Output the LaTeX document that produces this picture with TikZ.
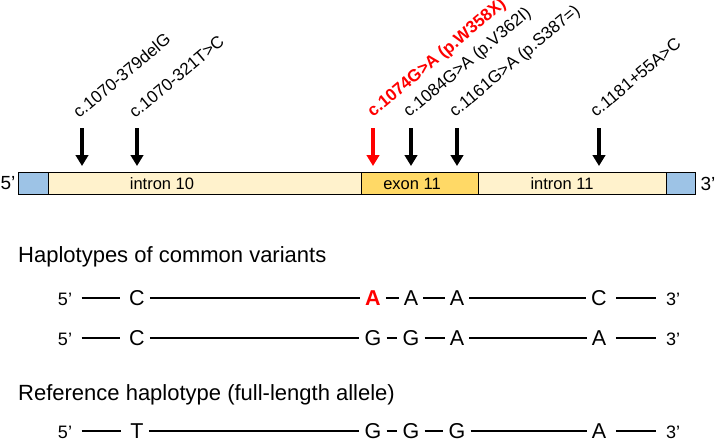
\documentclass[tikz,border=0pt]{standalone}
\usepackage{fontspec}
\setmainfont{Liberation Sans}
\usetikzlibrary{arrows.meta}
\definecolor{capblue}{HTML}{9DC3E6}
\definecolor{introncol}{HTML}{FFF2CC}
\definecolor{exoncol}{HTML}{FFD966}
\definecolor{mutred}{HTML}{FF0000}
\begin{document}
\begin{tikzpicture}[x=1pt,y=-1pt,
  seg/.style={draw=black, line width=1pt, minimum height=21.5pt, inner sep=0pt, anchor=west},
  seglbl/.style={font=\fontsize{16.5}{19}\selectfont, inner sep=0pt},
  endlbl/.style={font=\fontsize{19}{22}\selectfont, inner sep=0pt},
  varlbl/.style={font=\fontsize{17}{20}\selectfont, inner sep=0pt, anchor=base west, rotate=40},
  mutarrow/.style={-{Triangle[length=11pt,width=12.5pt]}, line width=4pt},
  heading/.style={font=\fontsize{22}{26}\selectfont, inner sep=0pt, anchor=base west},
  base/.style={font=\fontsize{21.5}{25}\selectfont, text height=15.5pt, text depth=0pt, inner ysep=0pt, inner xsep=5pt},
  endb/.style={font=\fontsize{18}{21}\selectfont, text height=15.5pt, text depth=0pt, inner ysep=0pt, inner xsep=5pt},
  hapline/.style={line width=2.8pt},
  endline/.style={line width=2.8pt, shorten <=4.5pt, shorten >=4.5pt}
]
\useasboundingbox (0,0) rectangle (717,439);

% gene bar
\node[seg, fill=capblue, minimum width=30pt] (s1) at (18,183.3) {};
\node[seg, fill=introncol, minimum width=313pt] (s2) at (48,183.3) {};
\node[seg, fill=exoncol, minimum width=117pt] (s3) at (361,183.3) {};
\node[seg, fill=introncol, minimum width=188pt] (s4) at (478,183.3) {};
\node[seg, fill=capblue, minimum width=28.5pt] (s5) at (666,183.3) {};
\node[seglbl] (t2) at (162,183.5) {intron 10};
\node[seglbl] (t3) at (412,183.5) {exon 11};
\node[seglbl] (t4) at (562,183.5) {intron 11};
\node[endlbl] (five) at (8,183.5) {5’};
\node[endlbl] (three) at (708,183.5) {3’};

% variant arrows
\coordinate (a1t) at (82,128);  \coordinate (a1b) at (82,166);
\coordinate (a2t) at (137,128); \coordinate (a2b) at (137,166);
\coordinate (a3t) at (373,128); \coordinate (a3b) at (373,166);
\coordinate (a4t) at (411,128); \coordinate (a4b) at (411,166);
\coordinate (a5t) at (457,128); \coordinate (a5b) at (457,166);
\coordinate (a6t) at (599,128); \coordinate (a6b) at (599,166);
\draw[mutarrow] (a1t) -- (a1b);
\draw[mutarrow] (a2t) -- (a2b);
\draw[mutarrow, mutred] (a3t) -- (a3b);
\draw[mutarrow] (a4t) -- (a4b);
\draw[mutarrow] (a5t) -- (a5b);
\draw[mutarrow] (a6t) -- (a6b);

\node[varlbl] (v1) at (79,119) {c.1070-379delG};
\node[varlbl] (v2) at (135,119) {c.1070-321T>C};
\node[varlbl, text=mutred, font=\fontsize{17}{20}\selectfont\bfseries] (v3) at (373,118) {c.1074G>A (p.W358X)};
\node[varlbl] (v4) at (409,118) {c.1084G>A (p.V362I)};
\node[varlbl] (v5) at (455,118) {c.1161G>A (p.S387=)};
\node[varlbl] (v6) at (596,118) {c.1181+55A>C};

% headings
\node[heading] (h1) at (18,262) {Haplotypes of common variants};
\node[heading] (h2) at (18,400.5) {Reference haplotype (full-length allele)};

% row 1
\node[endb] (r1a) at (65,298) {5’};
\node[base] (r1b) at (137,298) {C};
\node[base, text=mutred, font=\fontsize{21.5}{25}\selectfont\bfseries] (r1c) at (373,298) {A};
\node[base] (r1d) at (411,298) {A};
\node[base] (r1e) at (457,298) {A};
\node[base] (r1f) at (599,298) {C};
\node[endb] (r1g) at (673,298) {3’};
\draw[endline] (r1a.east) -- (r1b.west);
\draw[hapline] (r1b.east) -- (r1c.west);
\draw[hapline] (r1c.east) -- (r1d.west);
\draw[hapline] (r1d.east) -- (r1e.west);
\draw[hapline] (r1e.east) -- (r1f.west);
\draw[endline] (r1f.east) -- (r1g.west);

% row 2
\node[endb] (r2a) at (65,338) {5’};
\node[base] (r2b) at (137,338) {C};
\node[base] (r2c) at (373,338) {G};
\node[base] (r2d) at (411,338) {G};
\node[base] (r2e) at (457,338) {A};
\node[base] (r2f) at (599,338) {A};
\node[endb] (r2g) at (673,338) {3’};
\draw[endline] (r2a.east) -- (r2b.west);
\draw[hapline] (r2b.east) -- (r2c.west);
\draw[hapline] (r2c.east) -- (r2d.west);
\draw[hapline] (r2d.east) -- (r2e.west);
\draw[hapline] (r2e.east) -- (r2f.west);
\draw[endline] (r2f.east) -- (r2g.west);

% row 3
\node[endb] (r3a) at (65,431) {5’};
\node[base] (r3b) at (137,431) {T};
\node[base] (r3c) at (373,431) {G};
\node[base] (r3d) at (411,431) {G};
\node[base] (r3e) at (457,431) {G};
\node[base] (r3f) at (599,431) {A};
\node[endb] (r3g) at (673,431) {3’};
\draw[endline] (r3a.east) -- (r3b.west);
\draw[hapline] (r3b.east) -- (r3c.west);
\draw[hapline] (r3c.east) -- (r3d.west);
\draw[hapline] (r3d.east) -- (r3e.west);
\draw[hapline] (r3e.east) -- (r3f.west);
\draw[endline] (r3f.east) -- (r3g.west);
\end{tikzpicture}
\end{document}
